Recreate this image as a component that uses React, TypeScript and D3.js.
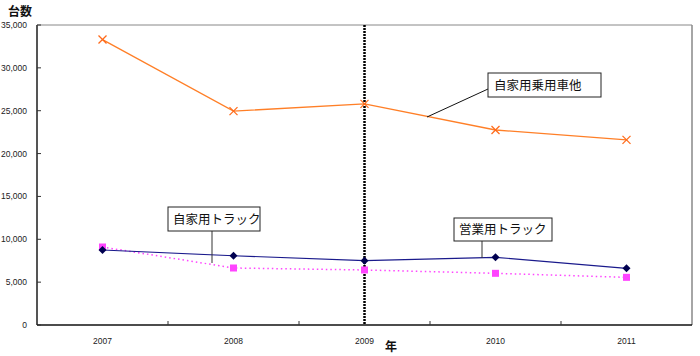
import React from "react";
import * as d3 from "d3";

const years = ["2007", "2008", "2009", "2010", "2011"];
const passenger = [33300, 24950, 25800, 22750, 21600];
const commercialTruck = [8750, 8080, 7500, 7900, 6610];
const privateTruck = [9100, 6650, 6420, 6030, 5560];
const yTicks = [0, 5000, 10000, 15000, 20000, 25000, 30000, 35000];

const W = 700, H = 356;
const left = 37, right = 692, top = 25, bottom = 325;
const jp = "'Noto Sans CJK JP', sans-serif";
const lat = "'Liberation Sans', Arial, sans-serif";

export default function App() {
  const x = d3.scaleBand<string>().domain(years).range([left, right]).padding(0);
  const y = d3.scaleLinear().domain([0, 35000]).range([bottom, top]);
  const cx = (d: string) => (x(d) as number) + x.bandwidth() / 2;
  const line = d3.line<[number, number]>().x(d => d[0]).y(d => d[1]);
  const pts = (vals: number[]) => years.map((yr, i) => [cx(yr), y(vals[i])] as [number, number]);
  const fmt = d3.format(",");
  const xBoundaries = years.slice(1).map(yr => x(yr) as number);

  return (
    <svg width={W} height={H} style={{ position: "absolute", left: 0, top: 0, background: "#fff" }}>
      {/* frame */}
      <line x1={left} x2={right} y1={top} y2={top} stroke="#888" strokeWidth={1} />
      <line x1={right} x2={right} y1={top} y2={bottom} stroke="#888" strokeWidth={1.5} />
      <line x1={left} x2={left} y1={top} y2={bottom} stroke="#555" strokeWidth={2} />
      <line x1={left} x2={right} y1={bottom} y2={bottom} stroke="#111" strokeWidth={1.5} />
      {/* y ticks */}
      {yTicks.map(t => (
        <g key={t}>
          <line x1={left} x2={left + 4} y1={y(t)} y2={y(t)} stroke="#333" strokeWidth={1} />
          <text x={27} y={y(t) + 3} textAnchor="end" fontFamily={lat} fontSize={8.5} fill="#222">{fmt(t)}</text>
        </g>
      ))}
      {/* x ticks */}
      {xBoundaries.map((b, i) => (
        <line key={i} x1={b} x2={b} y1={bottom} y2={bottom - 4} stroke="#333" strokeWidth={1} />
      ))}
      {years.map(yr => (
        <text key={yr} x={cx(yr)} y={344} textAnchor="middle" fontFamily={lat} fontSize={8.5} fill="#222">{yr}</text>
      ))}
      <text x={8} y={16} fontFamily={jp} fontSize={12} fontWeight="bold" fill="#111">台数</text>
      <text x={385} y={351} fontFamily={jp} fontSize={12} fontWeight="bold" fill="#111">年</text>
      {/* vertical marker line at 2009 */}
      <line x1={cx("2009")} x2={cx("2009")} y1={top} y2={bottom} stroke="#000" strokeWidth={2.5} strokeDasharray="2,1" />
      {/* passenger */}
      <path d={line(pts(passenger)) || ""} fill="none" stroke="#ff7f27" strokeWidth={1.3} />
      {pts(passenger).map((p, i) => (
        <g key={i} stroke="#ff6a1a" strokeWidth={1.3}>
          <line x1={p[0] - 4} x2={p[0] + 4} y1={p[1] - 4} y2={p[1] + 4} />
          <line x1={p[0] - 4} x2={p[0] + 4} y1={p[1] + 4} y2={p[1] - 4} />
        </g>
      ))}
      {/* private truck (magenta dotted) */}
      <path d={line(pts(privateTruck)) || ""} fill="none" stroke="#ff44ff" strokeWidth={1.5} strokeDasharray="1.5,3" />
      {pts(privateTruck).map((p, i) => (
        <rect key={i} x={p[0] - 3.5} y={p[1] - 3.5} width={7} height={7} fill="#ff44ff" />
      ))}
      {/* commercial truck (navy) */}
      <path d={line(pts(commercialTruck)) || ""} fill="none" stroke="#1a1a8c" strokeWidth={1.2} />
      {pts(commercialTruck).map((p, i) => (
        <path key={i} d={`M${p[0]},${p[1] - 4}L${p[0] + 4},${p[1]}L${p[0]},${p[1] + 4}L${p[0] - 4},${p[1]}Z`} fill="#000050" />
      ))}
      {/* annotations */}
      <line x1={488} y1={89} x2={427} y2={117} stroke="#111" strokeWidth={1} />
      <rect x={488} y={73} width={113} height={24} fill="#fff" stroke="#222" strokeWidth={1} />
      <text x={494} y={90} fontFamily={jp} fontSize={12.5} fill="#111">自家用乗用車他</text>

      <line x1={212} y1={231} x2={212} y2={263} stroke="#333" strokeWidth={1} />
      <rect x={168} y={207} width={92} height={24} fill="#fff" stroke="#222" strokeWidth={1} />
      <text x={173} y={224} fontFamily={jp} fontSize={12.5} fill="#111">自家用トラック</text>

      <line x1={482} y1={241} x2={482} y2={258} stroke="#333" strokeWidth={1} />
      <rect x={454} y={218} width={98} height={23} fill="#fff" stroke="#222" strokeWidth={1} />
      <text x={459} y={234} fontFamily={jp} fontSize={12.5} fill="#111">営業用トラック</text>
    </svg>
  );
}
